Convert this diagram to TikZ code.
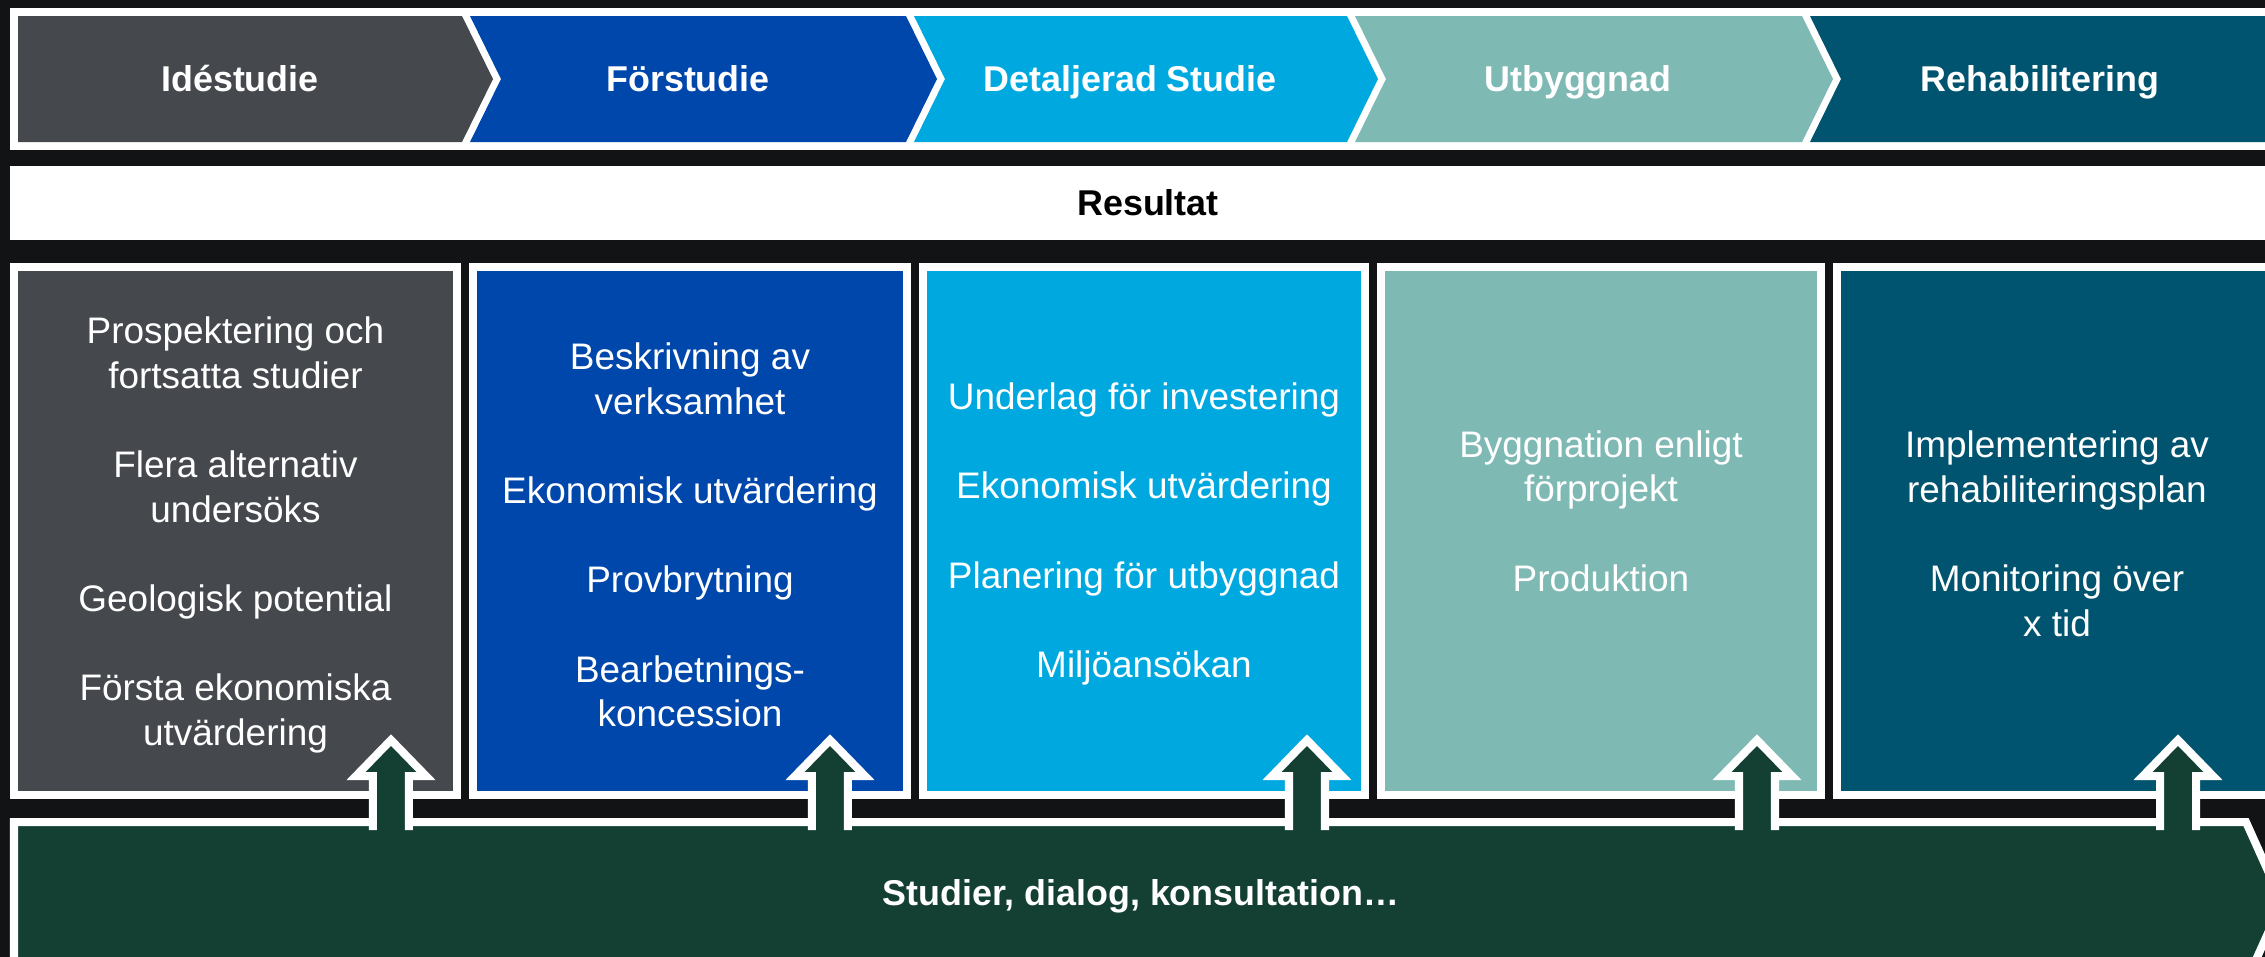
\documentclass[tikz,border=0pt]{standalone}
\usepackage{fontspec}
\setmainfont{Liberation Sans}
\definecolor{idegray}{HTML}{45484D}
\definecolor{forblue}{HTML}{0047AB}
\definecolor{detblue}{HTML}{00A8E0}
\definecolor{utbteal}{HTML}{7FB9B4}
\definecolor{rehteal}{HTML}{00546F}
\definecolor{dialoggreen}{HTML}{134033}
\definecolor{bgdark}{HTML}{111315}
\newcommand{\skipline}{\\[12.7pt]}

\begin{document}
\begin{tikzpicture}[x=0.01cm, y=-0.01cm,
    phase/.style={text=white, font=\fontsize{10.2}{12}\selectfont\bfseries, text height=0.76em, text depth=0.04em},
    colbox/.style={draw=white, line width=0.08cm, minimum height=5.28cm, inner sep=0pt, outer sep=0pt},
    coltext/.style={text=white, align=center, font=\fontsize{10.5}{12.7}\selectfont},
    blockarrow/.style={draw=white, fill=dialoggreen, line width=0.08cm, line join=miter}]
    \useasboundingbox (0,0) rectangle (2265,957);
    \clip (0,0) rectangle (2265,957);
    \fill[bgdark] (0,0) rectangle (2265,957);

    % Phases
    \fill[white] (10,8) rectangle (2290,150);
    \fill[idegray] (18,16) -- (462,16) -- (493,79) -- (462,142) -- (18,142) -- cycle;
    \fill[forblue] (470,16) -- (906,16) -- (937,79) -- (906,142) -- (470,142) -- (501,79) -- cycle;
    \fill[detblue] (914,16) -- (1347,16) -- (1378,79) -- (1347,142) -- (914,142) -- (945,79) -- cycle;
    \fill[utbteal] (1355,16) -- (1802,16) -- (1833,79) -- (1802,142) -- (1355,142) -- (1386,79) -- cycle;
    \fill[rehteal] (1810,16) -- (2290,16) -- (2290,142) -- (1810,142) -- (1841,79) -- cycle;
    \node (ide) [phase] at (240,79) {Idéstudie};
    \node (fors) [phase] at (688,79) {Förstudie};
    \node (det) [phase] at (1130,79) {Detaljerad Studie};
    \node (utb) [phase] at (1578,79) {Utbyggnad};
    \node (reh) [phase] at (2040,79) {Rehabilitering};

    % Result band
    \fill[white] (10,166) rectangle (2290,240);
    \node (res) [phase, text=black] at (1148,203) {Resultat};

    % Result boxes
    \node (ideBox) [colbox, fill=idegray, minimum width=4.43cm] at (235.5,531) {};
    \node (forsBox) [colbox, fill=forblue, minimum width=4.34cm] at (690,531) {};
    \node (detBox) [colbox, fill=detblue, minimum width=4.42cm] at (1144,531) {};
    \node (utbBox) [colbox, fill=utbteal, minimum width=4.40cm] at (1601,531) {};
    \node (rehBox) [colbox, fill=rehteal, minimum width=4.53cm] at (2063.5,531) {};

    \node (ideText) [coltext] at (235.5,535) {Prospektering och\\fortsatta studier\skipline
        Flera alternativ\\undersöks\skipline Geologisk potential\skipline
        Första ekonomiska\\utvärdering};
    \node (forsText) [coltext] at (690,535) {Beskrivning av\\verksamhet\skipline
        Ekonomisk utvärdering\skipline Provbrytning\skipline Bearbetnings-\\koncession};
    \node (detText) [coltext] at (1144,534) {Underlag för investering\skipline
        Ekonomisk utvärdering\skipline Planering för utbyggnad\skipline Miljöansökan};
    \node (utbText) [coltext] at (1601,511) {Byggnation enligt\\förprojekt\skipline Produktion};
    \node (rehText) [coltext] at (2057,534) {Implementering av\\rehabiliteringsplan\skipline
        Monitoring över\\x tid};

    % Studies band
    \filldraw[blockarrow] (14,822) -- (2246,822) -- (2282,902) -- (2246,982) -- (14,982) -- cycle;
    \node (dialog) [phase] at (1141,893) {Studier, dialog, konsultation…};

    % Up arrows
    \coordinate (ideUp) at (391,830);
    \coordinate (forsUp) at (830,830);
    \coordinate (detUp) at (1307,830);
    \coordinate (utbUp) at (1757,830);
    \coordinate (rehUp) at (2178,830);
    \filldraw[blockarrow] ([xshift=-0.18cm]ideUp) -- ++(0,-54) -- ++(-17,0) -- ++(35,-36) -- ++(35,36) -- ++(-17,0) -- ++(0,54);
    \filldraw[blockarrow] ([xshift=-0.18cm]forsUp) -- ++(0,-54) -- ++(-17,0) -- ++(35,-36) -- ++(35,36) -- ++(-17,0) -- ++(0,54);
    \filldraw[blockarrow] ([xshift=-0.18cm]detUp) -- ++(0,-54) -- ++(-17,0) -- ++(35,-36) -- ++(35,36) -- ++(-17,0) -- ++(0,54);
    \filldraw[blockarrow] ([xshift=-0.18cm]utbUp) -- ++(0,-54) -- ++(-17,0) -- ++(35,-36) -- ++(35,36) -- ++(-17,0) -- ++(0,54);
    \filldraw[blockarrow] ([xshift=-0.18cm]rehUp) -- ++(0,-54) -- ++(-17,0) -- ++(35,-36) -- ++(35,36) -- ++(-17,0) -- ++(0,54);
\end{tikzpicture}
\end{document}
